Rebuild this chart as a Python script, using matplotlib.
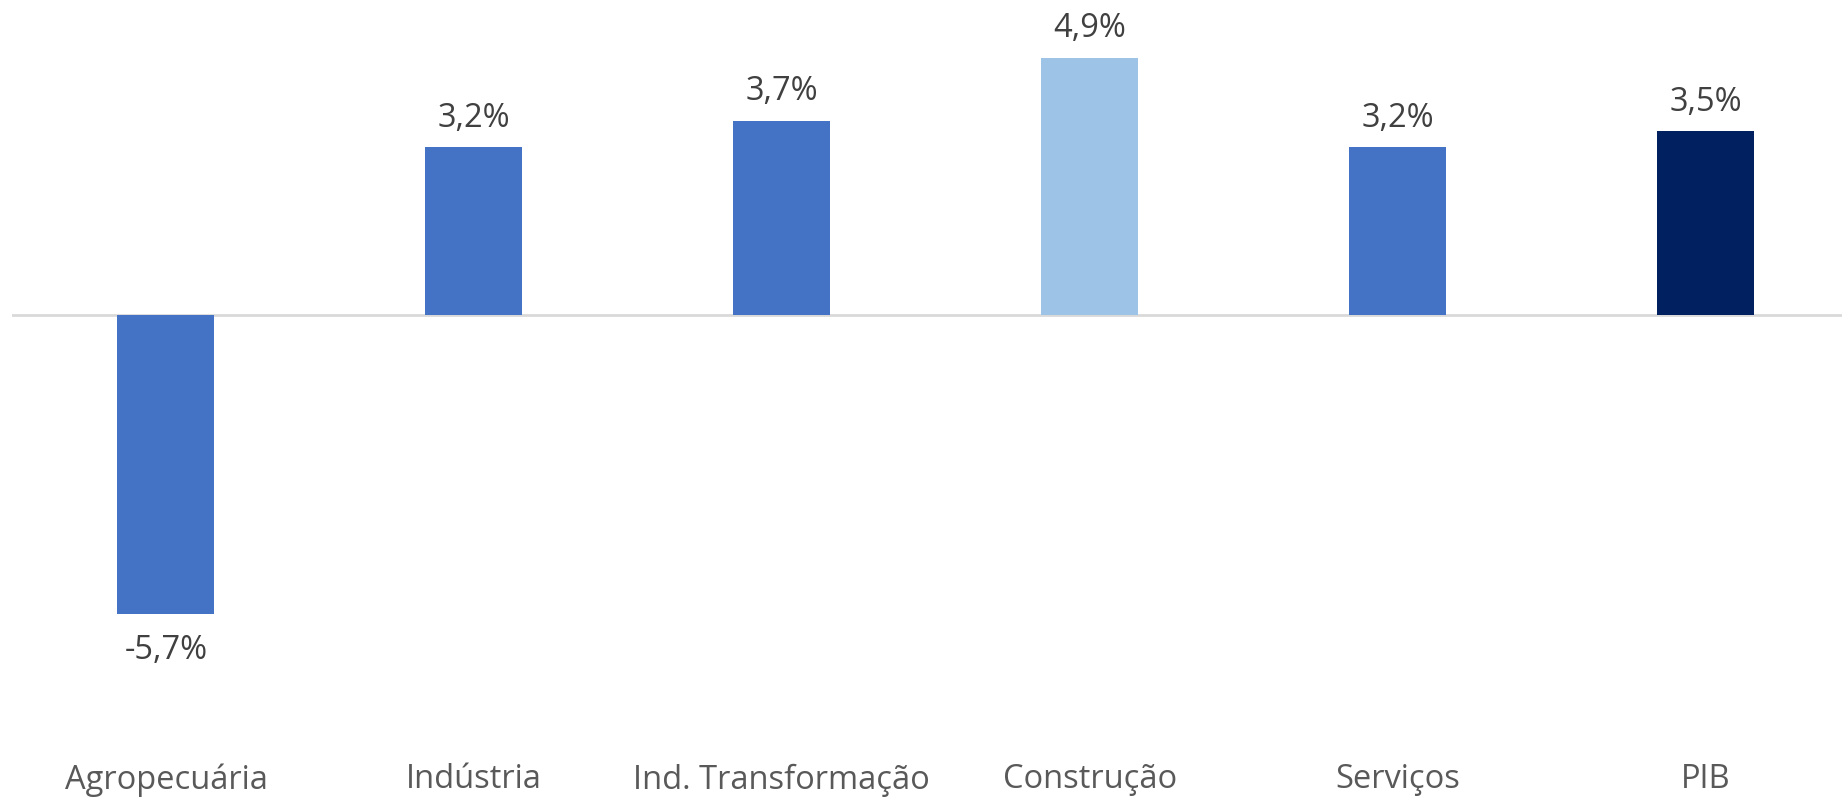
import matplotlib.pyplot as plt

categories = ['Agropecuária', 'Indústria', 'Ind. Transformação', 'Construção', 'Serviços', 'PIB']
values = [-5.7, 3.2, 3.7, 4.9, 3.2, 3.5]
colors = ['#4472C4', '#4472C4', '#4472C4', '#9DC3E6', '#4472C4', '#002060']

plt.rcParams['font.family'] = ['Open Sans', 'DejaVu Sans']

fig = plt.figure(figsize=(18.42, 7.99), dpi=100)
ax = fig.add_axes([12 / 1842, 1 - 751 / 799, 1 - 12 / 1842, 751 / 799])

x = list(range(len(categories)))
bars = ax.bar(x, values, width=0.315, color=colors, zorder=2)
ax.axhline(0, color='#D9D9D9', lw=2, zorder=1)

# value labels
for xi, v in zip(x, values):
    lbl = ('%.1f%%' % v).replace('.', ',')
    if v >= 0:
        ax.annotate(lbl, (xi, v), xytext=(0, 9), textcoords='offset points',
                    ha='center', va='bottom', fontsize=23.5, color='#404040')
    else:
        ax.annotate(lbl, (xi, v), xytext=(0, -14), textcoords='offset points',
                    ha='center', va='top', fontsize=23.5, color='#404040')

ax.set_xlim(-0.5, 5.443)
ax.set_ylim(-8.3, 6)
ax.set_xticks(x)
ax.set_xticklabels(categories, fontsize=23.5, color='#595959')
ax.tick_params(axis='x', length=0, pad=9)
ax.set_yticks([])
for s in ax.spines.values():
    s.set_visible(False)

fig.savefig('out.png', dpi=100)
